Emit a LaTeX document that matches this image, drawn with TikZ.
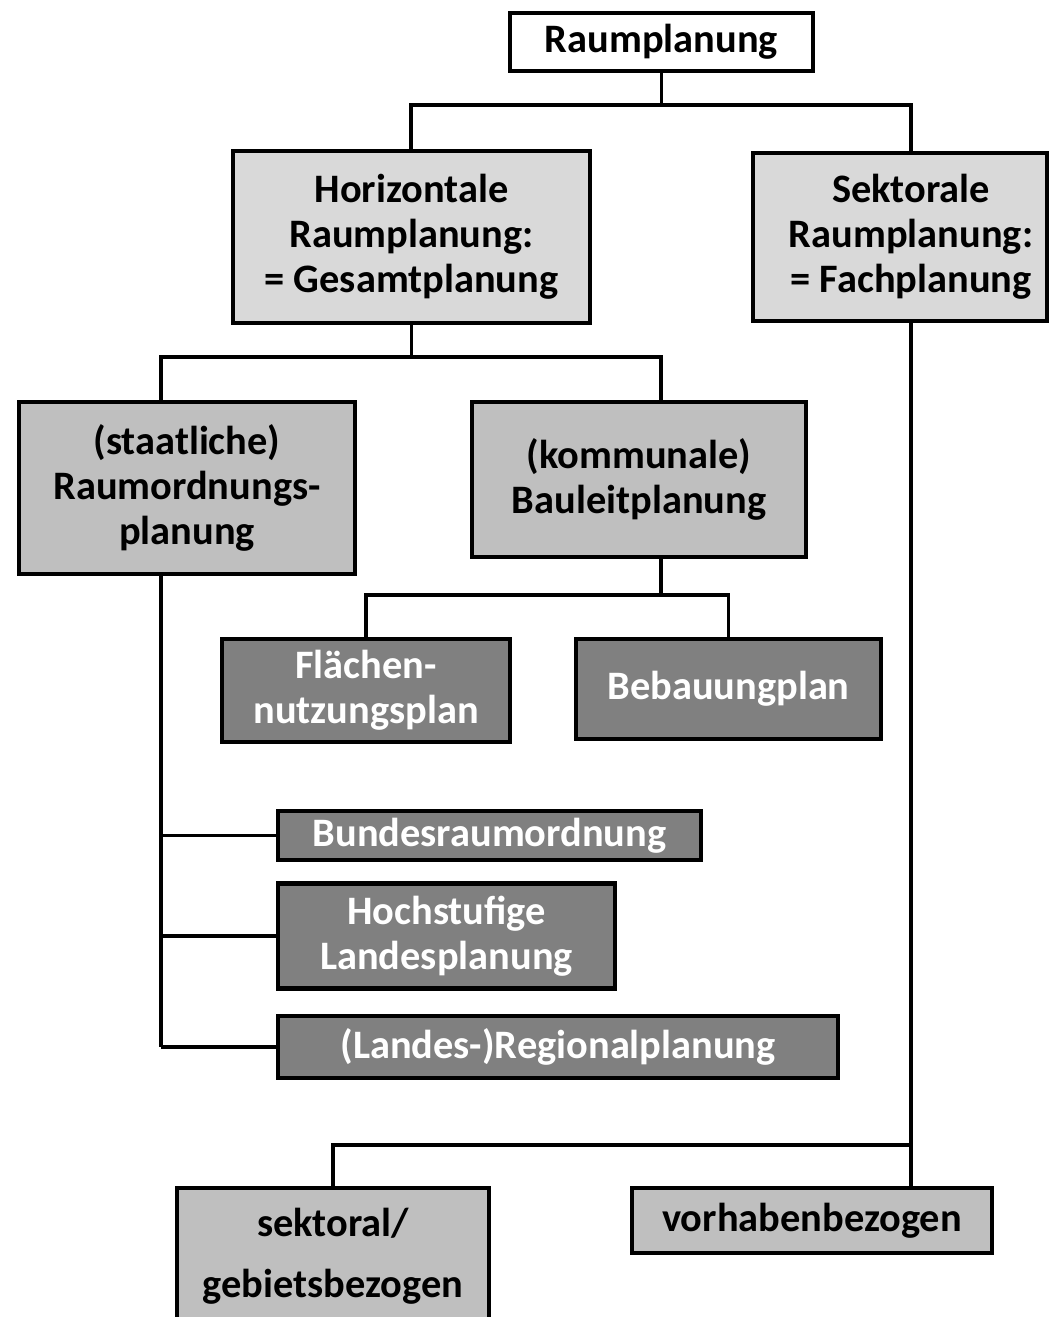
\documentclass[tikz,border=0pt]{standalone}
\usepackage{fontspec}
\setmainfont{Carlito}
\usetikzlibrary{calc}

\begin{document}
\begin{tikzpicture}[x=0.02cm,y=-0.02cm,
    box/.style={draw,line width=2.5pt,inner sep=0pt,align=center,
        font=\bfseries\fontsize{23}{25.6}\selectfont},
    light/.style={box,fill=black!15},
    mid/.style={box,fill=black!25},
    dark/.style={box,fill=black!50,text=white},
    link/.style={line width=2.1pt}]
    \useasboundingbox (0,0) rectangle (1049,1317);
    \node[box,fill=white,minimum width=6.06cm,minimum height=1.16cm] (R) at (661.5,42) {Raumplanung};
    \node[light,minimum width=7.14cm,minimum height=3.44cm] (H) at (411.5,237)
        {Horizontale\\Raumplanung:\\= Gesamtplanung};
    \node[light,minimum width=5.88cm,minimum height=3.36cm] (S) at (900,237)
        {\hspace*{0.44cm}Sektorale\\\hspace*{0.44cm}Raumplanung:\\\hspace*{0.44cm}= Fachplanung};
    \node[mid,minimum width=6.72cm,minimum height=3.44cm] (St) at (187,488)
        {(staatliche)\\Raumordnungs-\\planung};
    \node[mid,minimum width=6.68cm,minimum height=3.1cm] (K) at (639,479.5)
        {(kommunale)\\Bauleitplanung};
    \node[dark,minimum width=5.76cm,minimum height=2.06cm] (F) at (366,690.5)
        {Flächen-\\nutzungsplan};
    \node[dark,minimum width=6.1cm,minimum height=2cm] (B) at (728.5,689) {Bebauungplan};
    \node[dark,minimum width=8.46cm,minimum height=0.98cm] (Bu) at (489.5,835.5) {Bundesraumordnung};
    \node[dark,minimum width=6.74cm,minimum height=2.1cm] (Ho) at (446.5,936)
        {Hochstufige\\Landesplanung};
    \node[dark,minimum width=11.2cm,minimum height=1.24cm] (Re) at (558,1047) {(Landes-)Regionalplanung};
    \node[mid,minimum width=6.24cm,minimum height=2.72cm,
        font=\bfseries\fontsize{23}{35}\selectfont] (Sg) at (333,1256) {sektoral/\\gebietsbezogen};
    \node[mid,minimum width=7.2cm,minimum height=1.3cm] (V) at (812,1220.5) {vorhabenbezogen};
    \coordinate (J0) at (411,105);
    \coordinate (J5) at (911,105);
    \coordinate (J1) at (161,357);
    \coordinate (J2) at (661,357);
    \coordinate (J3) at (661,595);
    \coordinate (J4) at (911,1145);
    \draw[link] (R.south) |- (J0) -- (J0 |- H.north);
    \draw[link] (R.south) |- (J5) -- (J5 |- S.north);
    \draw[link] (H.south) |- (J1) -- (J1 |- St.north);
    \draw[link] (H.south) |- (J2) -- (J2 |- K.north);
    \draw[link] (J3 |- K.south) -- (J3) -| (F.north);
    \draw[link] (J3) -| (B.north);
    \draw[link] (J1 |- St.south) -- (J1 |- Re.west);
    \foreach \X in {Bu,Ho,Re}
        \draw[link] (J1 |- \X.west) -- (\X.west);
    \draw[link] (J5 |- S.south) -- (J5 |- V.north);
    \draw[link] (J4) -| (Sg.north);
\end{tikzpicture}
\end{document}
